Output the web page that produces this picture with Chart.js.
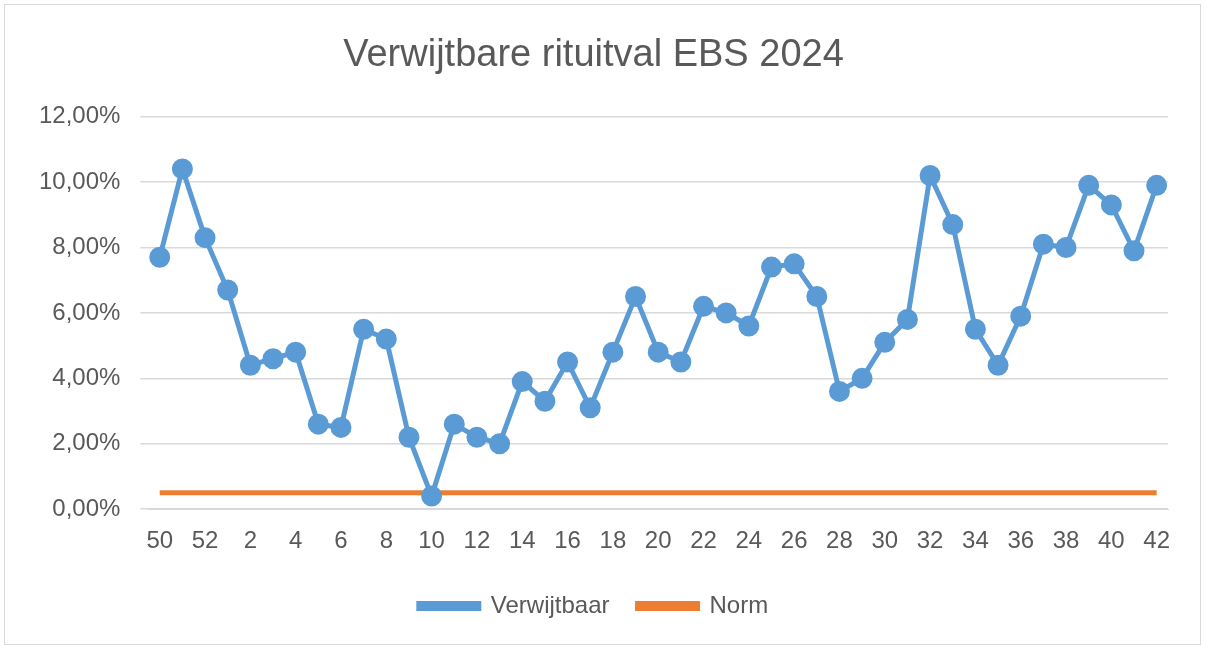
<!DOCTYPE html>
<html><head><meta charset="utf-8">
<script src="https://cdn.jsdelivr.net/npm/chart.js@4/dist/chart.umd.min.js"></script>
<style>html,body{margin:0;padding:0;background:#fff}#w{position:absolute;left:4px;top:4px;width:1197px;height:641px;border:1px solid #d9d9d9;box-sizing:border-box}</style>
</head><body><div id="w"><canvas id="c"></canvas></div>
<script>
const weeks=["50","51","52","1","2","3","4","5","6","7","8","9","10","11","12","13","14","15","16","17","18","19","20","21","22","23","24","25","26","27","28","29","30","31","32","33","34","35","36","37","38","39","40","41","42"];
const verwijtbaar=[7.7,10.4,8.3,6.7,4.4,4.6,4.8,2.6,2.5,5.5,5.2,2.2,0.4,2.6,2.2,2.0,3.9,3.3,4.5,3.1,4.8,6.5,4.8,4.5,6.2,6.0,5.6,7.4,7.5,6.5,3.6,4.0,5.1,5.8,10.2,8.7,5.5,4.4,5.9,8.1,8.0,9.9,9.3,7.9,9.9];
const norm=weeks.map(()=>0.5);
const F="'Liberation Sans', Arial, sans-serif";
new Chart(document.getElementById('c'),{type:'line',
data:{labels:weeks,datasets:[
{label:'Verwijtbaar',data:verwijtbaar,borderColor:'#5b9bd5',backgroundColor:'#5b9bd5',borderWidth:5,pointRadius:8,pointBackgroundColor:'#5b9bd5',pointBorderColor:'#5b9bd5',tension:0},
{label:'Norm',data:norm,borderColor:'#ed7d31',backgroundColor:'#ed7d31',borderWidth:5,pointRadius:0,tension:0}]},
options:{responsive:true,maintainAspectRatio:false,animation:false,
layout:{padding:{left:14,right:32,top:10,bottom:16}},
plugins:{title:{display:true,text:'Verwijtbare rituitval EBS 2024',color:'#595959',font:{family:F,size:38,weight:'normal'},padding:{top:18,bottom:38}},
legend:{position:'bottom',labels:{color:'#595959',font:{family:F,size:24},boxWidth:60,boxHeight:5,padding:28},onClick:null},tooltip:{enabled:false}},
scales:{x:{offset:true,grid:{display:false},border:{color:'#d9d9d9'},ticks:{autoSkip:false,maxRotation:0,padding:10,color:'#595959',font:{family:F,size:24},callback:(v,i)=>i%2===0?weeks[i]:''}},
y:{min:0,max:12,border:{display:false},grid:{color:'#d9d9d9',lineWidth:1.5},ticks:{stepSize:2,color:'#595959',font:{family:F,size:24},padding:20,callback:v=>v.toFixed(2).replace('.',',')+'%'}}}}});
</script></body></html>
